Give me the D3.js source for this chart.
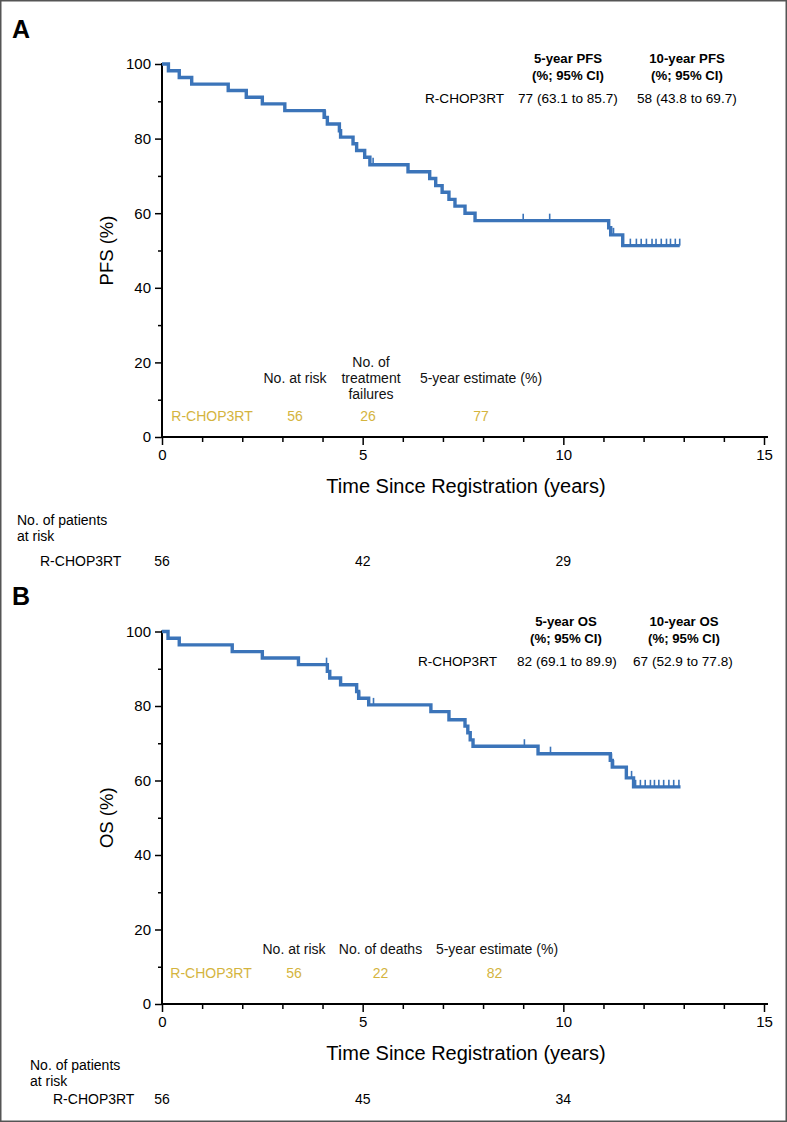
<!DOCTYPE html>
<html><head><meta charset="utf-8">
<script src="https://cdn.jsdelivr.net/npm/d3@7"></script>
<style>
html,body{margin:0;padding:0;background:#fff;}
svg text{font-family:"Liberation Sans",Arial,Helvetica,sans-serif;}
</style></head>
<body>
<svg id="chart" width="787" height="1122"></svg>
<script>
// ---------- data ----------
const xTicks = [0, 5, 10, 15];
const yTicks = [0, 20, 40, 60, 80, 100];
const group = "R-CHOP3RT";

// Panel A: PFS
const pfsTimes = [0, 0.16, 0.43, 0.74, 1.65, 2.1, 2.5, 3.06, 4.04, 4.12, 4.42, 4.45, 4.76, 4.85, 5.05, 5.18, 6.13, 6.67, 6.82, 6.98, 7.15, 7.3, 7.55, 7.8, 11.13, 11.18, 11.48];
const pfsSurv  = [100, 98.2, 96.4, 94.6, 92.9, 91.1, 89.3, 87.5, 85.7, 83.9, 82.1, 80.4, 78.6, 76.8, 75.0, 73.0, 71.1, 69.3, 67.4, 65.6, 63.7, 61.9, 60.0, 58.0, 56.1, 54.2, 51.3];
const pfsEnd = 12.9;
const pfsCensor = [4.07, 4.45, 5.26, 9.0, 9.66, 11.2, 11.25, 11.67, 11.82, 11.94, 12.07, 12.21, 12.31, 12.44, 12.57, 12.67, 12.79, 12.9];
const pfsRiskTimes = [0, 5, 10];
const pfsRisk = [56, 42, 29];
const pfsHeader = ["5-year PFS", "10-year PFS"];
const pfsEstimates = ["77 (63.1 to 85.7)", "58 (43.8 to 69.7)"];
const pfsInnerHead = [["No. at risk"], ["No. of", "treatment", "failures"], ["5-year estimate (%)"]];
const pfsInnerVals = ["56", "26", "77"];

// Panel B: OS
const osTimes = [0, 0.15, 0.43, 1.75, 2.5, 3.4, 4.12, 4.18, 4.45, 4.85, 4.9, 5.15, 6.7, 7.15, 7.55, 7.62, 7.68, 7.75, 9.37, 11.17, 11.22, 11.57, 11.75];
const osSurv  = [100, 98.2, 96.4, 94.6, 92.9, 91.1, 89.3, 87.5, 85.7, 83.9, 82.1, 80.3, 78.5, 76.3, 74.6, 72.8, 70.9, 69.2, 67.2, 65.4, 63.6, 60.7, 58.3];
const osEnd = 12.92;
const osCensor = [4.1, 4.92, 5.27, 9.03, 9.68, 11.2, 11.25, 11.7, 11.8, 11.92, 12.04, 12.17, 12.27, 12.38, 12.5, 12.63, 12.75, 12.88];
const osRiskTimes = [0, 5, 10];
const osRisk = [56, 45, 34];
const osHeader = ["5-year OS", "10-year OS"];
const osEstimates = ["82 (69.1 to 89.9)", "67 (52.9 to 77.8)"];
const osInnerHead = [["No. at risk"], ["No. of deaths"], ["5-year estimate (%)"]];
const osInnerVals = ["56", "22", "82"];

// ---------- drawing ----------
const svg = d3.select("#chart");
const BLUE = "#3b74b9", GOLD = "#d4b43e";

svg.append("rect").attr("x", 0.75).attr("y", 0.75).attr("width", 785.5).attr("height", 1120.5)
  .attr("fill", "none").attr("stroke", "#555").attr("stroke-width", 1.5);

function panel(o) {
  const x = d3.scaleLinear().domain([0, 15]).range([162, 764]);
  const y = d3.scaleLinear().domain([0, 100]).range([o.y0, o.y100]);
  const g = svg.append("g");

  // panel letter
  g.append("text").attr("x", 12).attr("y", o.letterY).attr("font-size", 25).attr("font-weight", "bold").text(o.letter);

  // axes
  const xAx = d3.axisBottom(x).tickValues(d3.range(0, 16)).tickSize(6)
    .tickFormat(d => xTicks.includes(d) ? d : "");
  const xg = g.append("g").attr("transform", `translate(0,${o.y0})`).call(xAx);
  xg.select(".domain").attr("stroke-width", 2).attr("d", `M${x(0)},0H${x(15)+4}`);
  xg.selectAll(".tick line").attr("stroke-width", 1.5).attr("y2", d => xTicks.includes(d) ? 8 : 5);
  xg.selectAll(".tick text").attr("font-size", 15).attr("y", 12).attr("dy", "0.71em");

  const yAx = d3.axisLeft(y).tickValues(d3.range(0, 101, 10)).tickSize(6)
    .tickFormat(d => yTicks.includes(d) ? d : "");
  const yg = g.append("g").attr("transform", `translate(${x(0)},0)`).call(yAx);
  yg.select(".domain").attr("stroke-width", 2).attr("d", `M0,${o.y100-1}V${o.y0}`);
  yg.selectAll(".tick line").attr("stroke-width", 1.5).attr("x2", d => yTicks.includes(d) ? -7 : -4);
  yg.selectAll(".tick text").attr("font-size", 15).attr("x", -11);

  // axis titles
  g.append("text").attr("x", 466).attr("y", o.y0 + 56).attr("text-anchor", "middle")
    .attr("font-size", 20).text("Time Since Registration (years)");
  g.append("text").attr("transform", `translate(113,${(o.y0 + o.y100) / 2}) rotate(-90)`)
    .attr("text-anchor", "middle").attr("font-size", 18.5).text(o.ylab);

  // KM curve
  const pts = o.times.map((t, i) => [t, o.surv[i]]);
  pts.push([o.end, o.surv[o.surv.length - 1]]);
  const line = d3.line().x(d => x(d[0])).y(d => y(d[1])).curve(d3.curveStepAfter);
  g.append("path").datum(pts).attr("d", line).attr("fill", "none")
    .attr("stroke", BLUE).attr("stroke-width", 3.4).attr("stroke-linejoin", "miter");
  const survAt = t => { let s = 100; o.times.forEach((tt, i) => { if (tt <= t) s = o.surv[i]; }); return s; };
  g.selectAll("line.cens").data(o.censor).enter().append("line")
    .attr("x1", d => x(d)).attr("x2", d => x(d))
    .attr("y1", d => y(survAt(d)) - 7).attr("y2", d => y(survAt(d)))
    .attr("stroke", BLUE).attr("stroke-width", 1.6);

  // header estimates table
  o.header.forEach((h, i) => {
    g.append("text").attr("x", o.hdrX[i]).attr("y", o.hdrY).attr("text-anchor", "middle")
      .attr("font-size", 13.2).attr("font-weight", "bold").text(h);
    g.append("text").attr("x", o.hdrX[i]).attr("y", o.hdrY + 17).attr("text-anchor", "middle")
      .attr("font-size", 13.2).attr("font-weight", "bold").text("(%; 95% CI)");
  });
  g.append("text").attr("x", o.rowX[0]).attr("y", o.rowY).attr("font-size", 13.6).text(group);
  o.est.forEach((e, i) => {
    g.append("text").attr("x", o.rowX[i + 1]).attr("y", o.rowY).attr("font-size", 13.6).text(e);
  });

  // inner table
  o.innerHead.forEach((lines, i) => {
    const n = lines.length;
    lines.forEach((l, j) => {
      g.append("text").attr("x", o.innerX[i]).attr("y", o.innerMidY + (j - (n - 1) / 2) * 16)
        .attr("text-anchor", "middle").attr("font-size", 14).attr("fill", "#111").text(l);
    });
  });
  g.append("text").attr("x", o.innerGroupX).attr("y", o.innerValY).attr("text-anchor", "middle")
    .attr("font-size", 14).attr("fill", GOLD).text(group);
  o.innerVals.forEach((v, i) => {
    g.append("text").attr("x", o.innerValX[i]).attr("y", o.innerValY).attr("text-anchor", "middle")
      .attr("font-size", 14).attr("fill", GOLD).text(v);
  });

  // number at risk below
  g.append("text").attr("x", o.riskLabX).attr("y", o.riskY1).attr("font-size", 14).text("No. of patients");
  g.append("text").attr("x", o.riskLabX).attr("y", o.riskY1 + 16).attr("font-size", 14).text("at risk");
  g.append("text").attr("x", o.riskLabX + 23).attr("y", o.riskY2).attr("font-size", 14).text(group);
  o.riskTimes.forEach((t, i) => {
    g.append("text").attr("x", x(t)).attr("y", o.riskY2).attr("text-anchor", "middle")
      .attr("font-size", 14).text(o.risk[i]);
  });
}

panel({
  letter: "A", letterY: 38, ylab: "PFS (%)", y0: 437, y100: 64,
  times: pfsTimes, surv: pfsSurv, end: pfsEnd, censor: pfsCensor,
  header: pfsHeader, hdrX: [568, 687], hdrY: 63, rowY: 103, rowX: [425, 518, 637], est: pfsEstimates,
  innerHead: pfsInnerHead, innerX: [295, 371, 481], innerMidY: 383,
  innerVals: pfsInnerVals, innerValX: [295, 368, 481], innerGroupX: 212, innerValY: 421,
  riskLabX: 17, riskY1: 525, riskY2: 566, riskTimes: pfsRiskTimes, risk: pfsRisk
});

panel({
  letter: "B", letterY: 605, ylab: "OS (%)", y0: 1004, y100: 631.5,
  times: osTimes, surv: osSurv, end: osEnd, censor: osCensor,
  header: osHeader, hdrX: [566, 684], hdrY: 626, rowY: 666, rowX: [418, 517, 633], est: osEstimates,
  innerHead: osInnerHead, innerX: [294, 380.5, 497], innerMidY: 954,
  innerVals: osInnerVals, innerValX: [294, 380.5, 494.5], innerGroupX: 211, innerValY: 978,
  riskLabX: 30, riskY1: 1070, riskY2: 1104, riskTimes: osRiskTimes, risk: osRisk
});
</script>
</body></html>
